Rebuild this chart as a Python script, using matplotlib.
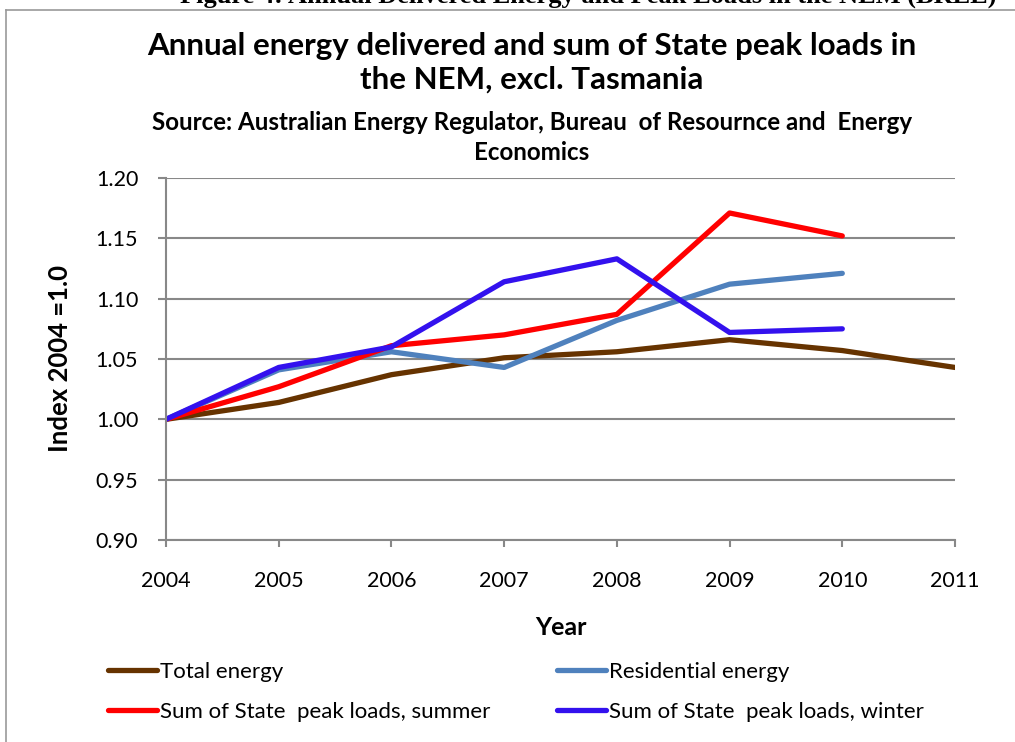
import matplotlib
matplotlib.use("Agg")
import matplotlib.pyplot as plt
from matplotlib.lines import Line2D

plt.rcParams['font.family'] = ['Lato', 'DejaVu Sans']

years = [2004, 2005, 2006, 2007, 2008, 2009, 2010, 2011]
total_energy = [1.000, 1.014, 1.037, 1.051, 1.056, 1.066, 1.057, 1.043]
years_short = [2004, 2005, 2006, 2007, 2008, 2009, 2010]
residential_energy = [1.000, 1.041, 1.056, 1.043, 1.082, 1.112, 1.121]
peak_summer = [1.000, 1.027, 1.061, 1.070, 1.087, 1.171, 1.152]
peak_winter = [1.000, 1.043, 1.060, 1.114, 1.133, 1.072, 1.075]
y_ticks = [0.90, 0.95, 1.00, 1.05, 1.10, 1.15, 1.20]

W, H = 1015, 742
fig = plt.figure(figsize=(W / 100, H / 100), dpi=100)
ax = fig.add_axes([166 / W, 1 - 540 / H, (955 - 166) / W, (540 - 178) / H])

grey = '#888888'
lw = 3.8
l1, = ax.plot(years, total_energy, color='#663300', lw=lw, solid_capstyle='round', label='Total energy')
l2, = ax.plot(years_short, residential_energy, color='#4F81BD', lw=lw, solid_capstyle='round', label='Residential energy')
l3, = ax.plot(years_short, peak_summer, color='#FF0000', lw=lw, solid_capstyle='round', label='Sum of State  peak loads, summer')
l4, = ax.plot(years_short, peak_winter, color='#3311EE', lw=lw, solid_capstyle='round', label='Sum of State  peak loads, winter')

ax.set_xlim(2004, 2011)
ax.set_ylim(0.90, 1.20)
ax.set_xticks(years)
ax.set_xticklabels([str(y) for y in years])
ax.set_yticks(y_ticks)
ax.set_yticklabels([f'{v:.2f}' for v in y_ticks])
ax.yaxis.grid(True, color=grey, lw=1.5)
ax.set_axisbelow(True)
for s in ['top', 'right']:
    ax.spines[s].set_visible(False)
for s in ['left', 'bottom']:
    ax.spines[s].set_color(grey)
    ax.spines[s].set_linewidth(1.5)
ax.tick_params(axis='y', length=6, width=1.5, color=grey, pad=14, labelsize=15.5)
ax.tick_params(axis='x', length=5, width=1.5, color=grey, pad=17, labelsize=15.5)

ax.set_xlabel('Year', fontsize=18, fontweight='bold', labelpad=18)
ax.set_ylabel('Index 2004 =1.0', fontsize=18.5, fontweight='bold', labelpad=17)

fig.text(532 / W, 1 - 46 / H, 'Annual energy delivered and sum of State peak loads in',
         ha='center', va='center', fontsize=22.5, fontweight='bold')
fig.text(532 / W, 1 - 80 / H, 'the NEM, excl. Tasmania',
         ha='center', va='center', fontsize=22.5, fontweight='bold')
fig.text(532 / W, 1 - 122 / H, 'Source: Australian Energy Regulator, Bureau  of Resournce and  Energy',
         ha='center', va='center', fontsize=17.4, fontweight='bold')
fig.text(532 / W, 1 - 152 / H, 'Economics',
         ha='center', va='center', fontsize=17.4, fontweight='bold')

# clipped document caption at the very top
fig.text(588 / W, 1 - 3 / H, 'Figure 4: Annual Delivered Energy and Peak Loads in the NEM (BREE)',
         ha='center', va='baseline', fontsize=19, fontweight='bold', family='Liberation Serif')

# chart border
fig.add_artist(Line2D([6 / W, 6 / W], [0, 1 - 10 / H], transform=fig.transFigure, color='#999999', lw=1.2))
fig.add_artist(Line2D([6 / W, 1], [1 - 10 / H, 1 - 10 / H], transform=fig.transFigure, color='#999999', lw=1.2))

leg_kw = dict(frameon=False, fontsize=16, handlelength=2.2, handletextpad=0.15,
              labelspacing=0.9, borderaxespad=0, borderpad=0)
leg1 = fig.legend(handles=[l1, l3], loc='center left', bbox_to_anchor=(108 / W, 1 - 692 / H), **leg_kw)
leg2 = fig.legend(handles=[l2, l4], loc='center left', bbox_to_anchor=(557 / W, 1 - 692 / H), **leg_kw)

fig.savefig('out.png', dpi=100)
